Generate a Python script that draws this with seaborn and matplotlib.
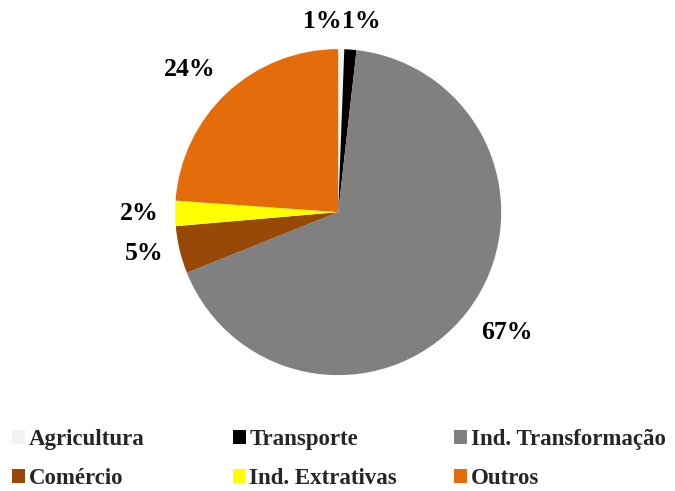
import matplotlib
matplotlib.use("Agg")
import matplotlib.pyplot as plt
import seaborn as sns

setores = ["Agricultura", "Transporte", "Ind. Transformação",
           "Comércio", "Ind. Extrativas", "Outros"]
participacao = [0.6, 1.2, 67.2, 4.7, 2.5, 23.9]
cores = ["#f2f2f2", "#000000", "#808080", "#984807", "#ffff00", "#e46c0a"]

sns.set_theme(style="white")
plt.rcParams['font.family'] = ['Liberation Serif', 'DejaVu Serif']
plt.rcParams['font.weight'] = 'bold'

fig = plt.figure(figsize=(6.75, 4.91), dpi=100)
ax = fig.add_axes([0.199, 0.153, 0.604, 0.830])

wedges, texts, autotexts = ax.pie(participacao,
                                  colors=sns.color_palette(cores),
                                  startangle=90,
                                  counterclock=False,
                                  autopct='%.0f%%',
                                  pctdistance=1.1,
                                  wedgeprops={'linewidth': 0})

# put labels just outside the edge, like excel "outside end"
for t in autotexts:
    t.set_fontsize(18.5)
    t.set_fontweight('bold')
    t.set_color('black')
    x, y = t.get_position()
    if x > 0.3:
        t.set_ha('left')
    elif x < -0.3:
        t.set_ha('right')
    if y > 0.3:
        t.set_va('bottom')
    elif y < -0.3:
        t.set_va('top')

# the two tiny slices sit side by side at the top
autotexts[0].set_ha('right')
autotexts[1].set_ha('left')
autotexts[1].set_position(autotexts[0].get_position())

# legend: three columns, two rows
xs = [0.018, 0.345, 0.673]
for c in range(3):
    fig.legend(wedges[c::3], setores[c::3],
               loc='upper left',
               bbox_to_anchor=(xs[c], 0.126),
               frameon=False,
               fontsize=16.5,
               handlelength=0.57,
               handleheight=0.57,
               handletextpad=0.15,
               labelspacing=0.78,
               borderaxespad=0,
               borderpad=0)

fig.savefig("out.png", dpi=100)
